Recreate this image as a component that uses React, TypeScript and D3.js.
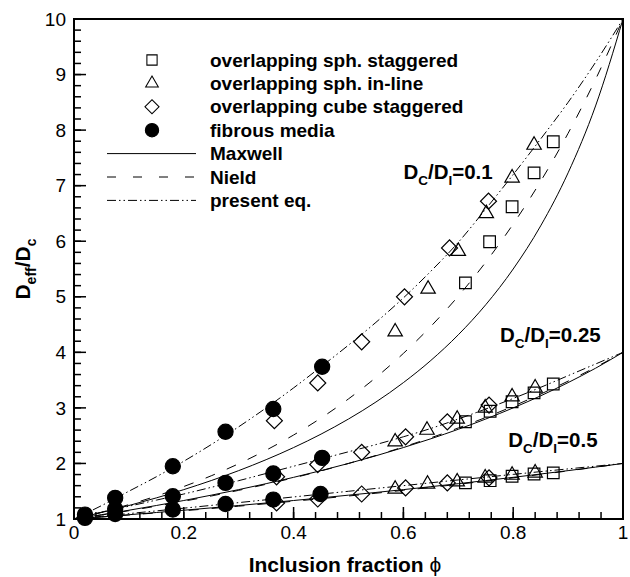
import React from "react";
import * as d3 from "d3";

// inclusion fraction grid used for the model curves
const phiGrid = [0, 0.05, 0.1, 0.15, 0.2, 0.25, 0.3, 0.35, 0.4, 0.45, 0.5, 0.55, 0.6, 0.65, 0.7, 0.75, 0.8, 0.85, 0.9, 0.95, 1];

// D_C/D_I = 0.1
const maxwell01 = [1, 1.117, 1.243, 1.38, 1.529, 1.692, 1.871, 2.068, 2.286, 2.528, 2.8, 3.106, 3.455, 3.854, 4.316, 4.857, 5.5, 6.276, 7.231, 8.435, 10];
const nield01 = [1, 1.122, 1.259, 1.413, 1.585, 1.778, 1.995, 2.239, 2.512, 2.818, 3.162, 3.548, 3.981, 4.467, 5.012, 5.623, 6.31, 7.079, 7.943, 8.913, 10];
const present01 = [1, 1.24, 1.5, 1.76, 2.04, 2.34, 2.66, 3.0, 3.36, 3.74, 4.13, 4.54, 4.98, 5.46, 5.98, 6.58, 7.2, 7.84, 8.5, 9.22, 10];

// D_C/D_I = 0.25
const maxwell025 = [1, 1.077, 1.158, 1.243, 1.333, 1.429, 1.529, 1.636, 1.75, 1.871, 2.0, 2.138, 2.286, 2.444, 2.615, 2.8, 3.0, 3.217, 3.455, 3.714, 4];
const nield025 = [1, 1.072, 1.149, 1.231, 1.32, 1.414, 1.516, 1.625, 1.741, 1.866, 2.0, 2.144, 2.297, 2.462, 2.639, 2.828, 3.031, 3.249, 3.482, 3.732, 4];
const present025 = [1, 1.12, 1.23, 1.34, 1.45, 1.57, 1.69, 1.82, 1.95, 2.08, 2.21, 2.34, 2.48, 2.63, 2.8, 2.98, 3.17, 3.37, 3.58, 3.79, 4];

// D_C/D_I = 0.5
const maxwell05 = [1, 1.038, 1.077, 1.117, 1.158, 1.2, 1.243, 1.288, 1.333, 1.38, 1.429, 1.478, 1.529, 1.582, 1.636, 1.692, 1.75, 1.81, 1.871, 1.934, 2];
const nield05 = [1, 1.035, 1.072, 1.11, 1.149, 1.189, 1.231, 1.275, 1.32, 1.366, 1.414, 1.464, 1.516, 1.569, 1.625, 1.682, 1.741, 1.802, 1.866, 1.932, 2];
const present05 = [1, 1.048, 1.097, 1.146, 1.195, 1.245, 1.295, 1.346, 1.397, 1.448, 1.499, 1.55, 1.6, 1.652, 1.703, 1.753, 1.803, 1.853, 1.902, 1.951, 2];

// simulation / experiment points [phi, Deff/Dc]
const sphStaggered = [
  [0.713, 5.25], [0.757, 5.99], [0.798, 6.62], [0.838, 7.23], [0.873, 7.79],
  [0.713, 2.75], [0.758, 2.94], [0.798, 3.11], [0.838, 3.27], [0.873, 3.43],
  [0.713, 1.65], [0.758, 1.69], [0.798, 1.77], [0.838, 1.81], [0.873, 1.83],
];
const sphInline = [
  [0.585, 4.37], [0.645, 5.14], [0.7, 5.82], [0.751, 6.5], [0.798, 7.14], [0.838, 7.73],
  [0.585, 2.39], [0.643, 2.6], [0.698, 2.8], [0.749, 3.0], [0.798, 3.2], [0.84, 3.36],
  [0.585, 1.54], [0.644, 1.63], [0.698, 1.67], [0.749, 1.74], [0.798, 1.79], [0.84, 1.83],
];
const cubeStaggered = [
  [0.365, 2.77], [0.444, 3.45], [0.524, 4.19], [0.602, 5.0], [0.684, 5.88], [0.755, 6.72],
  [0.369, 1.76], [0.444, 1.98], [0.524, 2.2], [0.604, 2.48], [0.68, 2.75], [0.756, 3.05],
  [0.369, 1.29], [0.444, 1.36], [0.524, 1.45], [0.604, 1.56], [0.68, 1.65], [0.756, 1.74],
];
const fibrous = [
  [0.02, 1.08], [0.075, 1.38], [0.18, 1.95], [0.276, 2.57], [0.363, 2.98], [0.452, 3.74],
  [0.02, 1.05], [0.075, 1.18], [0.18, 1.41], [0.276, 1.65], [0.363, 1.82], [0.452, 2.1],
  [0.02, 1.02], [0.075, 1.09], [0.18, 1.17], [0.276, 1.27], [0.363, 1.35], [0.449, 1.45],
];

const xTickLabels = ["0", "0.2", "0.4", "0.6", "0.8", "1"];
const yTickLabels = ["1", "2", "3", "4", "5", "6", "7", "8", "9", "10"];

// ratio labels: [phi, value, text]
const ratioLabels: [number, number, string][] = [
  [0.6, 7.12, "0.1"],
  [0.776, 4.19, "0.25"],
  [0.791, 2.3, "0.5"],
];

const W = 630;
const H = 577;
const FONT = "'Liberation Sans', Arial, Helvetica, 'DejaVu Sans', sans-serif";

const DASH = "10,13";
const DASHDOT = "9,3,1.5,3,1.5,3";

const x = d3.scaleLinear().domain([0, 1]).range([74, 623]);
const y = d3.scaleLinear().domain([1, 10]).range([519, 19]);

const line = d3
  .line<number>()
  .x((_, i) => x(phiGrid[i]))
  .y((d) => y(d))
  .curve(d3.curveMonotoneX);

const curves = [
  { vals: maxwell01, dash: undefined },
  { vals: nield01, dash: DASH },
  { vals: present01, dash: DASHDOT },
  { vals: maxwell025, dash: undefined },
  { vals: nield025, dash: DASH },
  { vals: present025, dash: DASHDOT },
  { vals: maxwell05, dash: undefined },
  { vals: nield05, dash: DASH },
  { vals: present05, dash: DASHDOT },
];

const sym = (type: d3.SymbolType, size: number) => d3.symbol().type(type).size(size)() || "";

const markerSets = [
  { pts: sphStaggered, d: sym(d3.symbolSquare, 135), rot: 0, fill: "none" },
  { pts: sphInline, d: sym(d3.symbolTriangle, 90), rot: 0, fill: "none" },
  { pts: cubeStaggered, d: sym(d3.symbolSquare, 128), rot: 45, fill: "none" },
  { pts: fibrous, d: sym(d3.symbolCircle, 180), rot: 0, fill: "#000" },
];

const legendRows = [
  { label: "overlapping sph. staggered", marker: 0 },
  { label: "overlapping sph. in-line", marker: 1 },
  { label: "overlapping cube staggered", marker: 2 },
  { label: "fibrous media", marker: 3 },
  { label: "Maxwell", dash: "none" },
  { label: "Nield", dash: "9,17" },
  { label: "present eq.", dash: DASHDOT },
];

export default function App() {
  const xMinor = d3.range(0, 1.0001, 0.04);
  const yMinor = d3.range(1, 10.0001, 0.2);
  const [x0, x1] = x.range();
  const [y0, y1] = y.range();

  return (
    <svg
      width={W}
      height={H}
      style={{ position: "absolute", left: 0, top: 0, background: "#fff" }}
      fontFamily={FONT}
    >
      {/* model curves */}
      <g fill="none" stroke="#000" strokeWidth={1}>
        {curves.map((c, i) => (
          <path key={i} d={line(c.vals) || ""} strokeDasharray={c.dash} />
        ))}
      </g>

      {/* data markers */}
      <g stroke="#000" strokeWidth={1.2}>
        {markerSets.map((m, k) =>
          m.pts.map((p, i) => (
            <path
              key={`${k}-${i}`}
              d={m.d}
              fill={m.fill}
              transform={`translate(${x(p[0])},${y(p[1])}) rotate(${m.rot})`}
            />
          ))
        )}
      </g>

      {/* ticks */}
      <g stroke="#000" strokeWidth={1.5}>
        {xMinor.map((t, i) => (
          <line key={`xm${i}`} x1={x(t)} x2={x(t)} y1={y0} y2={y0 - 7} />
        ))}
        {xTickLabels.map((_, i) => (
          <line key={`xM${i}`} x1={x(i * 0.2)} x2={x(i * 0.2)} y1={y0} y2={y0 - 12} />
        ))}
        {yMinor.map((t, i) => (
          <line key={`ym${i}`} x1={x0} x2={x0 + 7} y1={y(t)} y2={y(t)} />
        ))}
        {yTickLabels.map((_, i) => (
          <line key={`yM${i}`} x1={x0} x2={x0 + 12} y1={y(i + 1)} y2={y(i + 1)} />
        ))}
      </g>

      {/* frame */}
      <rect x={x0} y={y1} width={x1 - x0} height={y0 - y1} fill="none" stroke="#000" strokeWidth={2} />

      {/* tick labels */}
      <g fontSize={19} fill="#000">
        {xTickLabels.map((t, i) => (
          <text key={t} x={x(i * 0.2)} y={539} textAnchor="middle">
            {t}
          </text>
        ))}
        {yTickLabels.map((t, i) => (
          <text key={t} x={66} y={y(i + 1)} dy="0.35em" textAnchor="end">
            {t}
          </text>
        ))}
      </g>

      {/* axis titles */}
      <text x={345} y={572} fontSize={21} fontWeight="bold" textAnchor="middle">
        Inclusion fraction <tspan fontWeight="normal">{"\u03d5"}</tspan>
      </text>
      <text transform="translate(30,269) rotate(-90)" fontSize={21} fontWeight="bold" textAnchor="middle">
        D<tspan fontSize={14} dy={6}>eff</tspan>
        <tspan dy={-6}>/D</tspan>
        <tspan fontSize={14} dy={6}>c</tspan>
      </text>

      {/* ratio labels */}
      {ratioLabels.map(([p, v, t]) => (
        <text key={t} x={x(p)} y={y(v)} fontSize={20.5} fontWeight="bold">
          D<tspan fontSize={13.5} dy={6}>C</tspan>
          <tspan dy={-6}>/D</tspan>
          <tspan fontSize={13.5} dy={6}>I</tspan>
          <tspan dy={-6}>={t}</tspan>
        </text>
      ))}

      {/* legend */}
      <g>
        {legendRows.map((r, i) => {
          const cy = 60 + i * 23.4;
          return (
            <g key={r.label}>
              {r.marker !== undefined ? (
                <path
                  d={markerSets[r.marker].d}
                  fill={markerSets[r.marker].fill}
                  stroke="#000"
                  strokeWidth={1.2}
                  transform={`translate(152,${cy}) rotate(${markerSets[r.marker].rot}) scale(0.88)`}
                />
              ) : (
                <line
                  x1={107}
                  x2={196}
                  y1={cy}
                  y2={cy}
                  stroke="#000"
                  strokeWidth={1}
                  strokeDasharray={r.dash === "none" ? undefined : r.dash}
                />
              )}
              <text x={210} y={cy} dy="0.35em" fontSize={19} fontWeight="bold">
                {r.label}
              </text>
            </g>
          );
        })}
      </g>
    </svg>
  );
}
